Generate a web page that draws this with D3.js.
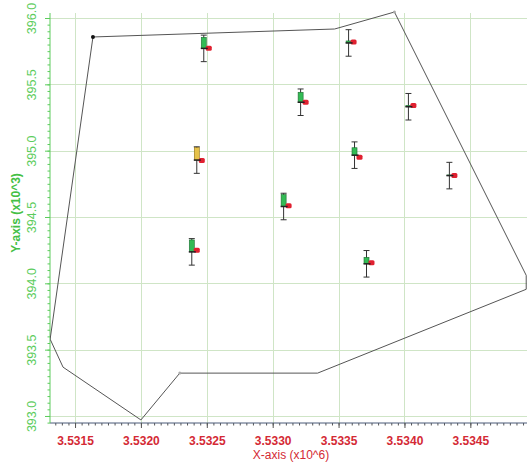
<!DOCTYPE html>
<html lang="en">
<head>
<meta charset="UTF-8">
<script src="https://cdn.jsdelivr.net/npm/d3@7"></script>
<title>Stations</title>
<style>
	body { margin: 0; background: #fff; }
	svg { display: block; font-family: "Liberation Sans", Arial, sans-serif; }
	.grid-line { stroke: #cfe5c6; stroke-width: 1; shape-rendering: crispEdges; }
	.x-axis text { fill: #d42a35; font-size: 12px; font-weight: bold; }
	.y-axis text { fill: #5ccc5c; font-size: 12.5px; }
</style>
</head>
<body>
<div id="container"></div>
<script>
	const width = 527,
		height = 463;

	// station positions (x in 10^6, y in 10^3)
	const stationX = [3.532477, 3.532424, 3.532386, 3.533212, 3.533576, 3.533621, 3.534030, 3.534341, 3.533712, 3.533083];
	const stationY = [395.771, 394.929, 394.237, 395.365, 395.812, 394.966, 395.331, 394.812, 394.147, 394.579];
	const errY = [0.10, 0.10, 0.10, 0.10, 0.10, 0.10, 0.10, 0.10, 0.10, 0.10];
	const barH = [0.083, 0.094, 0.09, 0.075, 0.015, 0.056, 0.01, 0.005, 0.049, 0.09];
	const barKind = ['g', 'y', 'g', 'g', 'g', 'g', 'g', 'g', 'g', 'g'];
	const modelY = [395.772, 394.925, 394.25, 395.365, 395.82, 394.95, 395.34, 394.812, 394.155, 394.585];

	// outline polygon
	const outlineX = [3.531636, 3.533470, 3.533924, 3.534924, 3.534924, 3.533341, 3.532295, 3.532000, 3.531409, 3.531311, 3.531636];
	const outlineY = [395.857, 395.917, 396.045, 394.060, 393.955, 393.323, 393.323, 392.970, 393.368, 393.579, 395.857];

	const xTicks = [3.5315, 3.5320, 3.5325, 3.5330, 3.5335, 3.5340, 3.5345];
	const yTicks = [393.0, 393.5, 394.0, 394.5, 395.0, 395.5, 396.0];

	const x = d3.scaleLinear()
		.domain([3.53131, 3.53493])
		.range([50, 527]);
	const y = d3.scaleLinear()
		.domain([392.947, 396.0])
		.range([423, 18]);

	const svg = d3.select('#container')
		.append('svg')
		.attr('width', width)
		.attr('height', height);

	svg.append('defs').append('clipPath')
		.attr('id', 'plot-clip')
		.append('rect')
		.attr('x', 50).attr('y', 0)
		.attr('width', 477).attr('height', 423);

	// grid
	svg.append('g').selectAll('line.v')
		.data(xTicks)
		.enter().append('line')
		.classed('grid-line', true)
		.attr('x1', d => Math.round(x(d)) + 0.5).attr('x2', d => Math.round(x(d)) + 0.5)
		.attr('y1', 13).attr('y2', 423);
	svg.append('g').selectAll('line.h')
		.data(yTicks)
		.enter().append('line')
		.classed('grid-line', true)
		.attr('x1', 50).attr('x2', 527)
		.attr('y1', d => Math.round(y(d)) + 0.5).attr('y2', d => Math.round(y(d)) + 0.5);

	// minor ticks
	const xMinor = d3.range(3.53135, 3.53495, 0.00005).filter(v => v <= 3.53493);
	const yMinor = d3.range(392.95, 396.04, 0.05);

	svg.append('g')
		.attr('transform', 'translate(0,423)')
		.call(d3.axisBottom(x).tickValues(xMinor).tickSize(2.5).tickFormat(''))
		.call(g => g.select('.domain').remove())
		.selectAll('line').attr('stroke', '#555');

	svg.append('g')
		.attr('transform', 'translate(50,0)')
		.call(d3.axisLeft(y).tickValues(yMinor).tickSize(2.5).tickFormat(''))
		.call(g => g.select('.domain').remove())
		.selectAll('line').attr('stroke', '#5ccc5c');

	// x axis
	const xAxis = svg.append('g')
		.attr('class', 'x-axis')
		.attr('transform', 'translate(0,423)')
		.call(d3.axisBottom(x).tickValues(xTicks).tickSize(5).tickPadding(8).tickFormat(d3.format('.4f')));
	xAxis.select('.domain').attr('stroke', '#4a5a78').attr('d', 'M50,0H527');
	xAxis.selectAll('line').attr('stroke', '#555');

	// y axis
	const yAxis = svg.append('g')
		.attr('class', 'y-axis')
		.attr('transform', 'translate(50,0)')
		.call(d3.axisLeft(y).tickValues(yTicks).tickSize(5).tickFormat(d3.format('.1f')));
	yAxis.select('.domain').attr('stroke', '#5ccc5c').attr('d', 'M0,13V423');
	yAxis.selectAll('line').attr('stroke', '#5ccc5c');
	yAxis.selectAll('text')
		.attr('x', 0).attr('dy', 0)
		.attr('text-anchor', 'middle')
		.attr('transform', 'translate(-14,0) rotate(-90)');

	// axis titles
	svg.append('text')
		.attr('x', 291).attr('y', 459)
		.attr('text-anchor', 'middle')
		.attr('fill', '#d42a35')
		.style('font-size', '12px')
		.text('X-axis (x10^6)');
	svg.append('text')
		.attr('transform', 'translate(20,213) rotate(-90)')
		.attr('text-anchor', 'middle')
		.attr('fill', '#44c044')
		.style('font-size', '12px')
		.style('font-weight', 'bold')
		.text('Y-axis (x10^3)');

	// outline
	const outline = outlineX.map((v, i) => [v, outlineY[i]]);
	const plot = svg.append('g').attr('clip-path', 'url(#plot-clip)');
	plot.append('path')
		.attr('d', d3.line().x(d => x(d[0])).y(d => y(d[1]))(outline))
		.attr('fill', 'none')
		.attr('stroke', '#555')
		.attr('stroke-width', 1);
	plot.append('circle')
		.attr('cx', x(outlineX[0])).attr('cy', y(outlineY[0])).attr('r', 2)
		.attr('fill', '#111');
	plot.append('circle')
		.attr('cx', x(outlineX[6])).attr('cy', y(outlineY[6])).attr('r', 1.5)
		.attr('fill', '#aaa');
	plot.append('circle')
		.attr('cx', x(outlineX[2])).attr('cy', y(outlineY[2])).attr('r', 1.5)
		.attr('fill', '#aaa');

	// station glyphs
	const stations = stationX.map((v, i) => ({
		x: v, y: stationY[i], e: errY[i], h: barH[i], k: barKind[i], m: modelY[i]
	}));

	const g = plot.selectAll('g.station')
		.data(stations)
		.enter().append('g')
		.attr('class', 'station');

	g.append('line')
		.attr('x1', d => x(d.x)).attr('x2', d => x(d.x))
		.attr('y1', d => y(d.y + d.e)).attr('y2', d => y(d.y - d.e))
		.attr('stroke', '#333').attr('stroke-width', 1);
	g.append('line')
		.attr('x1', d => x(d.x) - 3).attr('x2', d => x(d.x) + 3)
		.attr('y1', d => y(d.y + d.e)).attr('y2', d => y(d.y + d.e))
		.attr('stroke', '#333');
	g.append('line')
		.attr('x1', d => x(d.x) - 3).attr('x2', d => x(d.x) + 3)
		.attr('y1', d => y(d.y - d.e)).attr('y2', d => y(d.y - d.e))
		.attr('stroke', '#333');

	g.append('rect')
		.attr('x', d => x(d.x) - 2.5)
		.attr('y', d => y(d.y + d.h))
		.attr('width', 5)
		.attr('height', d => y(d.y) - y(d.y + d.h))
		.attr('fill', d => d.k === 'y' ? '#e6c24a' : '#33bb55')
		.attr('stroke', d => d.k === 'y' ? '#8a6a10' : '#1d6b30')
		.attr('stroke-width', 0.6);

	g.append('rect')
		.attr('x', d => x(d.x) + 2)
		.attr('y', d => y(d.m) - 2.5)
		.attr('width', 6)
		.attr('height', 5)
		.attr('rx', 1.5)
		.attr('fill', '#e02030');

	g.append('line')
		.attr('x1', d => x(d.x) - 3).attr('x2', d => x(d.x) + 4)
		.attr('y1', d => y(d.y)).attr('y2', d => y(d.y))
		.attr('stroke', '#222').attr('stroke-width', 1.5);
</script>
</body>
</html>
